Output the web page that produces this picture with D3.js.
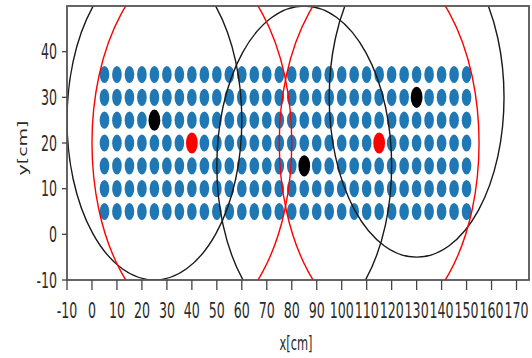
<!DOCTYPE html>
<html>
<head>
<meta charset="utf-8">
<script src="https://cdn.jsdelivr.net/npm/d3@7"></script>
<style>
body { margin: 0; background: #fff; }
text { font-family: "DejaVu Sans", sans-serif; fill: #2b2b2b; }
</style>
</head>
<body>
<div id="vis"></div>
<script>
const WIDTH = 532;
const HEIGHT = 358;
const PLOT = {left: 67, right: 529, top: 6, bottom: 280};

// grid of sensor points
const gridX = d3.range(5, 151, 5);
const gridY = [5, 10, 15, 20, 25, 30, 35];

// black sources with their circles
const blackX = [25, 85, 130];
const blackY = [25, 15, 30];
const blackR = [35, 35, 35];

// red sources with their circles
const redX = [40, 115];
const redY = [20, 20];
const redR = [40, 40];

const xTicks = d3.range(-10, 171, 10);
const yTicks = [-10, 0, 10, 20, 30, 40];

const X_SCALE = d3.scaleLinear().domain([-10, 175]).range([PLOT.left, PLOT.right]);
const Y_SCALE = d3.scaleLinear().domain([-10, 50]).range([PLOT.bottom, PLOT.top]);

const svg = d3.select("#vis").append("svg")
	.attr("width", WIDTH)
	.attr("height", HEIGHT);

svg.append("clipPath").attr("id", "clip")
	.append("rect")
		.attr("x", PLOT.left)
		.attr("y", PLOT.top)
		.attr("width", PLOT.right - PLOT.left)
		.attr("height", PLOT.bottom - PLOT.top);

const plot = svg.append("g").attr("clip-path", "url(#clip)");

// blue grid
const grid = [];
gridY.forEach(y => gridX.forEach(x => grid.push({x: x, y: y})));

plot.selectAll(".grid")
	.data(grid)
	.enter()
	.append("ellipse")
		.attr("cx", d => X_SCALE(d.x))
		.attr("cy", d => Y_SCALE(d.y))
		.attr("rx", 4.8)
		.attr("ry", 8.6)
		.attr("fill", "#1f77b4");

const blacks = blackX.map((x, i) => ({x: x, y: blackY[i], r: blackR[i]}));
const reds = redX.map((x, i) => ({x: x, y: redY[i], r: redR[i]}));

function drawSources(data, color) {
	plot.selectAll(null)
		.data(data)
		.enter()
		.append("ellipse")
			.attr("cx", d => X_SCALE(d.x))
			.attr("cy", d => Y_SCALE(d.y))
			.attr("rx", 5.9)
			.attr("ry", 10.6)
			.attr("fill", color);
}
drawSources(reds, "#ff0000");
drawSources(blacks, "#000");

// circles in data units (axes are not equal, so they come out as ellipses)
function drawRings(data, color) {
	plot.selectAll(null)
		.data(data)
		.enter()
		.append("ellipse")
			.attr("cx", d => X_SCALE(d.x))
			.attr("cy", d => Y_SCALE(d.y))
			.attr("rx", d => X_SCALE(d.x + d.r) - X_SCALE(d.x))
			.attr("ry", d => Y_SCALE(d.y) - Y_SCALE(d.y + d.r))
			.attr("fill", "none")
			.attr("stroke", color)
			.attr("stroke-width", 1.4);
}
drawRings(blacks, "#1a1a1a");
drawRings(reds, "#ff0000");

// frame
svg.append("rect")
	.attr("x", PLOT.left)
	.attr("y", PLOT.top)
	.attr("width", PLOT.right - PLOT.left)
	.attr("height", PLOT.bottom - PLOT.top)
	.attr("fill", "none")
	.attr("stroke", "#555")
	.attr("stroke-width", 1.8);

// x ticks
const xt = svg.selectAll(".xt").data(xTicks).enter().append("g")
	.attr("transform", d => "translate(" + X_SCALE(d) + ",0)");
xt.append("line")
	.attr("y1", PLOT.bottom)
	.attr("y2", PLOT.bottom + 10)
	.attr("stroke", "#444")
	.attr("stroke-width", 1.3);
xt.append("text")
	.attr("transform", "translate(0,318) scale(0.6,1)")
	.attr("text-anchor", "middle")
	.attr("font-size", 21)
	.text(d => d);

// y ticks
const yt = svg.selectAll(".yt").data(yTicks).enter().append("g")
	.attr("transform", d => "translate(0," + Y_SCALE(d) + ")");
yt.append("line")
	.attr("x1", PLOT.left - 5)
	.attr("x2", PLOT.left)
	.attr("stroke", "#444")
	.attr("stroke-width", 1.3);
yt.append("text")
	.attr("transform", "translate(57,7.5) scale(0.6,1)")
	.attr("text-anchor", "end")
	.attr("font-size", 21)
	.text(d => d);

// axis labels
svg.append("text")
	.attr("transform", "translate(296,350) scale(0.6,1)")
	.attr("text-anchor", "middle")
	.attr("font-size", 19)
	.text("x[cm]");

svg.append("text")
	.attr("transform", "translate(23,148) rotate(-90) scale(1,0.6)")
	.attr("text-anchor", "middle")
	.attr("dy", "0.35em")
	.attr("font-size", 19)
	.text("y[cm]");
</script>
</body>
</html>
